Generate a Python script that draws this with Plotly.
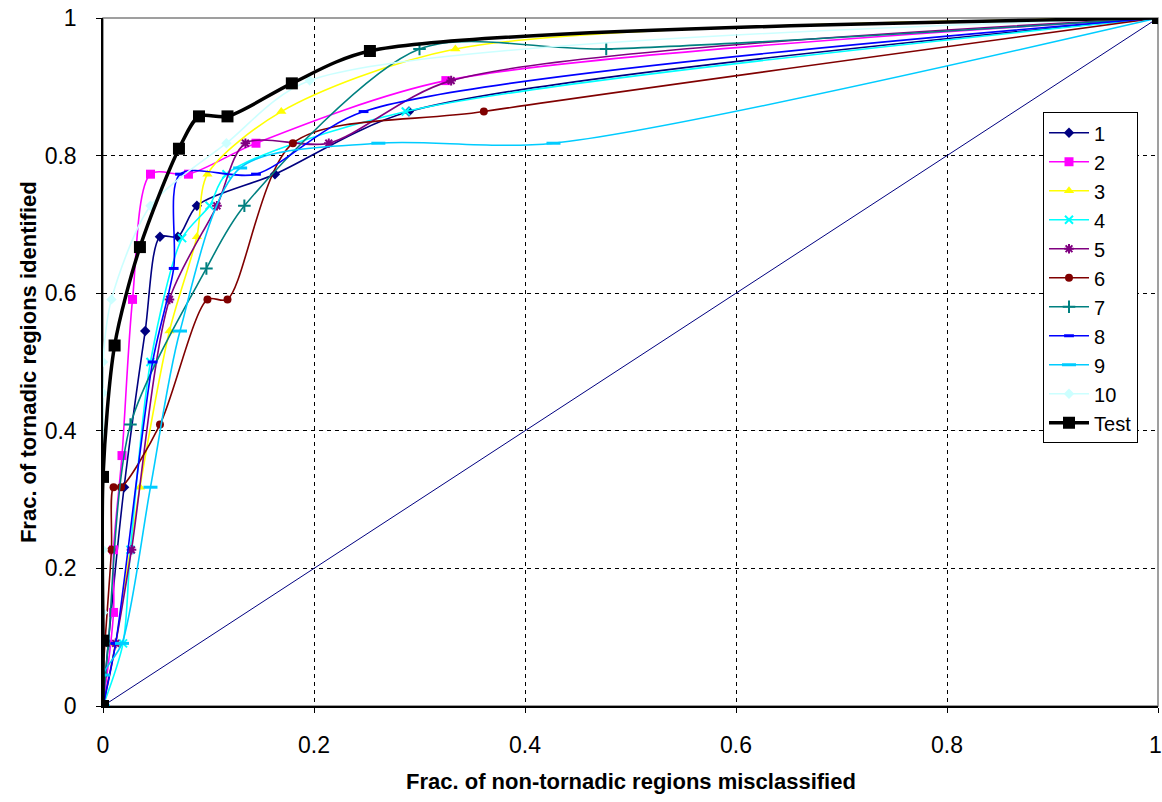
import plotly.graph_objects as go

# ---- data ----
s1_x = [0, 0.005, 0.02, 0.04, 0.054, 0.071, 0.089, 0.163, 0.29, 1]
s1_y = [0, 0.091, 0.318, 0.545, 0.682, 0.682, 0.727, 0.773, 0.864, 1]

s2_x = [0, 0.01, 0.01, 0.018, 0.028, 0.045, 0.081, 0.145, 0.325, 1]
s2_y = [0, 0.136, 0.227, 0.364, 0.591, 0.773, 0.773, 0.818, 0.909, 1]

s3_x = [0, 0.012, 0.035, 0.063, 0.089, 0.099, 0.169, 0.334, 1]
s3_y = [0, 0.091, 0.318, 0.545, 0.682, 0.773, 0.864, 0.955, 1]

s4_x = [0, 0.019, 0.026, 0.045, 0.075, 0.101, 0.117, 0.287, 1]
s4_y = [0, 0.091, 0.227, 0.5, 0.68, 0.727, 0.773, 0.864, 1]

s5_x = [0, 0.012, 0.027, 0.063, 0.108, 0.135, 0.214, 0.33, 1]
s5_y = [0, 0.091, 0.227, 0.591, 0.727, 0.818, 0.818, 0.909, 1]

s6_x = [0, 0, 0.008, 0.01, 0.017, 0.054, 0.099, 0.118, 0.18, 0.361, 1]
s6_y = [0, 0.045, 0.227, 0.318, 0.318, 0.409, 0.591, 0.591, 0.818, 0.864, 1]

s7_x = [0, 0.005, 0.026, 0.098, 0.134, 0.3, 0.477, 1]
s7_y = [0, 0.091, 0.409, 0.636, 0.727, 0.955, 0.955, 1]

s8_x = [0, 0.012, 0.047, 0.067, 0.073, 0.145, 0.247, 1]
s8_y = [0, 0.091, 0.5, 0.636, 0.773, 0.773, 0.864, 1]

s9_x = [0, 0, 0.018, 0.045, 0.073, 0.13, 0.261, 0.427, 1]
s9_y = [0, 0.045, 0.091, 0.318, 0.545, 0.782, 0.818, 0.818, 1]

s10_x = [0, 0, 0, 0, 0, 0.008, 0.045, 0.117, 0.196, 1]
s10_y = [0, 0.136, 0.227, 0.455, 0.5, 0.591, 0.727, 0.818, 0.909, 1]

test_x = [0, 0, 0, 0.011, 0.035, 0.072, 0.091, 0.118, 0.179, 0.253, 1]
test_y = [0, 0.095, 0.333, 0.524, 0.667, 0.810, 0.857, 0.857, 0.905, 0.952, 1]

diag_x = [0, 1]
diag_y = [0, 1]

tick_vals = [0, 0.2, 0.4, 0.6, 0.8, 1]
x_tick_text = ["0", "0.2", "0.4", "0.6", "0.8", ""]   # last label drawn as an annotation below
x_last_label = "1"
y_tick_text = ["0", "0.2", "0.4", "0.6", "0.8", "1"]

x_title = "Frac. of non-tornadic regions misclassified"
y_title = "Frac. of tornadic regions identified"

series = [
    ("1", s1_x, s1_y, "#000080", dict(symbol="diamond", size=8)),
    ("2", s2_x, s2_y, "#FF00FF", dict(symbol="square", size=9)),
    ("3", s3_x, s3_y, "#FFFF00", dict(symbol="triangle-up", size=9)),
    ("4", s4_x, s4_y, "#00FFFF", dict(symbol="x-thin", size=8, line=dict(width=2, color="#00FFFF"))),
    ("5", s5_x, s5_y, "#800080", dict(symbol="asterisk", size=8, line=dict(width=2, color="#800080"))),
    ("6", s6_x, s6_y, "#800000", dict(symbol="circle", size=8)),
    ("7", s7_x, s7_y, "#008080", dict(symbol="cross-thin", size=9, line=dict(width=2, color="#008080"))),
    ("8", s8_x, s8_y, "#0000FF", dict(symbol="line-ew", size=7, line=dict(width=3, color="#0000FF"))),
    ("9", s9_x, s9_y, "#00CCFF", dict(symbol="line-ew", size=10, line=dict(width=3, color="#00CCFF"))),
    ("10", s10_x, s10_y, "#CCFFFF", dict(symbol="diamond", size=8)),
]

fig = go.Figure()

fig.add_trace(go.Scatter(x=diag_x, y=diag_y, mode="lines",
                         line=dict(color="#000080", width=1),
                         showlegend=False, hoverinfo="skip"))

for name, xs, ys, col, mk in series:
    mk = dict(mk)
    mk.setdefault("color", col)
    fig.add_trace(go.Scatter(x=xs, y=ys, name=name, mode="lines+markers",
                             line=dict(color=col, width=1.6, shape="spline", smoothing=0.8),
                             marker=mk))

fig.add_trace(go.Scatter(x=test_x, y=test_y, name="Test", mode="lines+markers",
                         line=dict(color="black", width=3.5, shape="spline", smoothing=0.8),
                         marker=dict(symbol="square", size=12, color="black")))

font_family = "Arial, Liberation Sans, sans-serif"
tick_size = 23

axis_common = dict(
    range=[0, 1], tickvals=tick_vals,
    showgrid=True, gridcolor="black", gridwidth=1, griddash="4px,4px",
    zeroline=False, showline=True, linecolor="black", linewidth=1.5,
    ticks="outside", ticklen=5, tickcolor="black",
    tickfont=dict(family=font_family, size=tick_size, color="black"),
    automargin=False, ticklabeloverflow="allow",
)

fig.update_layout(
    width=1162, height=802,
    margin=dict(l=103, r=4, t=18, b=96),
    paper_bgcolor="white", plot_bgcolor="white",
    font=dict(family=font_family, color="black"),
    xaxis=dict(**axis_common, ticktext=x_tick_text, ticklabelstandoff=13),
    yaxis=dict(**axis_common, ticktext=y_tick_text, ticklabelstandoff=15),
    legend=dict(x=0.891, y=0.863, xanchor="left", yanchor="top",
                bgcolor="white", bordercolor="black", borderwidth=1,
                font=dict(family=font_family, size=20, color="black"),
                itemwidth=40, entrywidth=120, tracegroupgap=0),
    showlegend=True,
)

fig.add_annotation(text=x_last_label, xref="paper", yref="paper",
                   x=1, y=0, xanchor="center", yanchor="top", yshift=-24, xshift=-3,
                   showarrow=False,
                   font=dict(family=font_family, size=tick_size, color="black"))

fig.add_annotation(text="<b>" + x_title + "</b>", xref="paper", yref="paper",
                   x=0.5, y=-0.11, xanchor="center", yanchor="middle", showarrow=False,
                   font=dict(family=font_family, size=22, color="black"))
fig.add_annotation(text="<b>" + y_title + "</b>", xref="paper", yref="paper",
                   x=-0.071, y=0.5, xanchor="center", yanchor="middle", showarrow=False,
                   textangle=-90,
                   font=dict(family=font_family, size=22, color="black"))

fig.add_shape(type="rect", xref="paper", yref="paper", x0=0, y0=0, x1=1, y1=1,
              line=dict(color="#808080", width=1.5), layer="below")

fig.write_html("out.html", config={"displayModeBar": False},
               post_script="document.body.style.margin='0px';document.body.style.overflow='hidden';")
